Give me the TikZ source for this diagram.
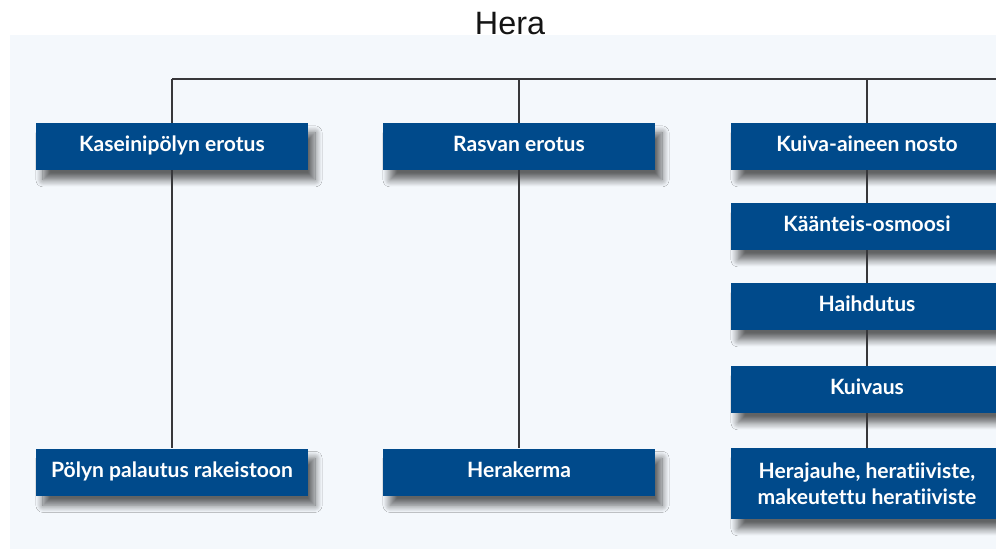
\documentclass[tikz,border=0pt]{standalone}
\usepackage{fontspec}
\setmainfont{Liberation Sans}
\newfontfamily\boxfont[Ligatures=NoCommon]{Lato}
\usetikzlibrary{
    calc,
    positioning,
    shadows.blur
}
\definecolor{ink}{RGB}{20,20,20}
\definecolor{wire}{RGB}{55,55,58}
\definecolor{stepblue}{RGB}{0,74,139}
\definecolor{panel}{RGB}{244,248,252}
\tikzset{
    line cap=round,
    line join=round,
    pop/.style={
        blur shadow={shadow xshift=5pt, shadow yshift=-7pt, shadow blur radius=5pt, shadow blur steps=10, shadow opacity=60}
    },
    stepbox/.style={
        rectangle,
        fill=stepblue,
        text=white,
        minimum width=6.8cm,
        minimum height=1.175cm,
        align=center,
        inner sep=2pt,
        text height=1.9ex,
        text depth=0.5ex,
        font=\boxfont\bfseries\fontsize{15}{18.5}\selectfont,
        pop
    },
    tallbox/.style={
        stepbox,
        text height=,
        text depth=,
        minimum height=1.775cm
    },
    wire/.style={
        draw=wire,
        line width=1.8pt
    },
    paneltitle/.style={
        font=\fontsize{23}{26}\selectfont,
        text=ink
    }
}

\begin{document}
\begin{tikzpicture}[x=0.025cm, y=-0.025cm]
\useasboundingbox (0,0) rectangle (996,549);

% Panel
\fill[panel] (10,35) rectangle (996,549);
\node[paneltitle] (title) at (510,24) {Hera};

% Bus
\coordinate (bus) at (172,79);
\coordinate (busend) at (996,79);

% Column 1
\node[stepbox] (kasein) at (172,146.5) {Kaseinipölyn erotus};
\node[stepbox] (palautus) at (172,472) {Pölyn palautus rakeistoon};

% Column 2
\node[stepbox] (rasva) at (519,146.5) {Rasvan erotus};
\node[stepbox] (kerma) at (519,472) {Herakerma};

% Column 3
\node[stepbox] (nosto) at (867,146.5) {Kuiva-aineen nosto};
\node[stepbox] (osmoosi) at (867,226.5) {Käänteis-osmoosi};
\node[stepbox] (haihdutus) at (867,306.5) {Haihdutus};
\node[stepbox] (kuivaus) at (867,389.5) {Kuivaus};
\node[tallbox] (jauhe) at (867,483.5) {Herajauhe, heratiiviste,\\makeutettu heratiiviste};

% Connectors
\draw[wire] (bus) -- (busend);
\draw[wire] (bus) -- (kasein.north);
\draw[wire] (kasein) -- (palautus);
\draw[wire] (rasva |- bus) -- (rasva.north);
\draw[wire] (rasva) -- (kerma);
\draw[wire] (nosto |- bus) -- (nosto.north);
\draw[wire] (nosto) -- (osmoosi);
\draw[wire] (osmoosi) -- (haihdutus);
\draw[wire] (haihdutus) -- (kuivaus);
\draw[wire] (kuivaus) -- (jauhe);
\end{tikzpicture}
\end{document}
